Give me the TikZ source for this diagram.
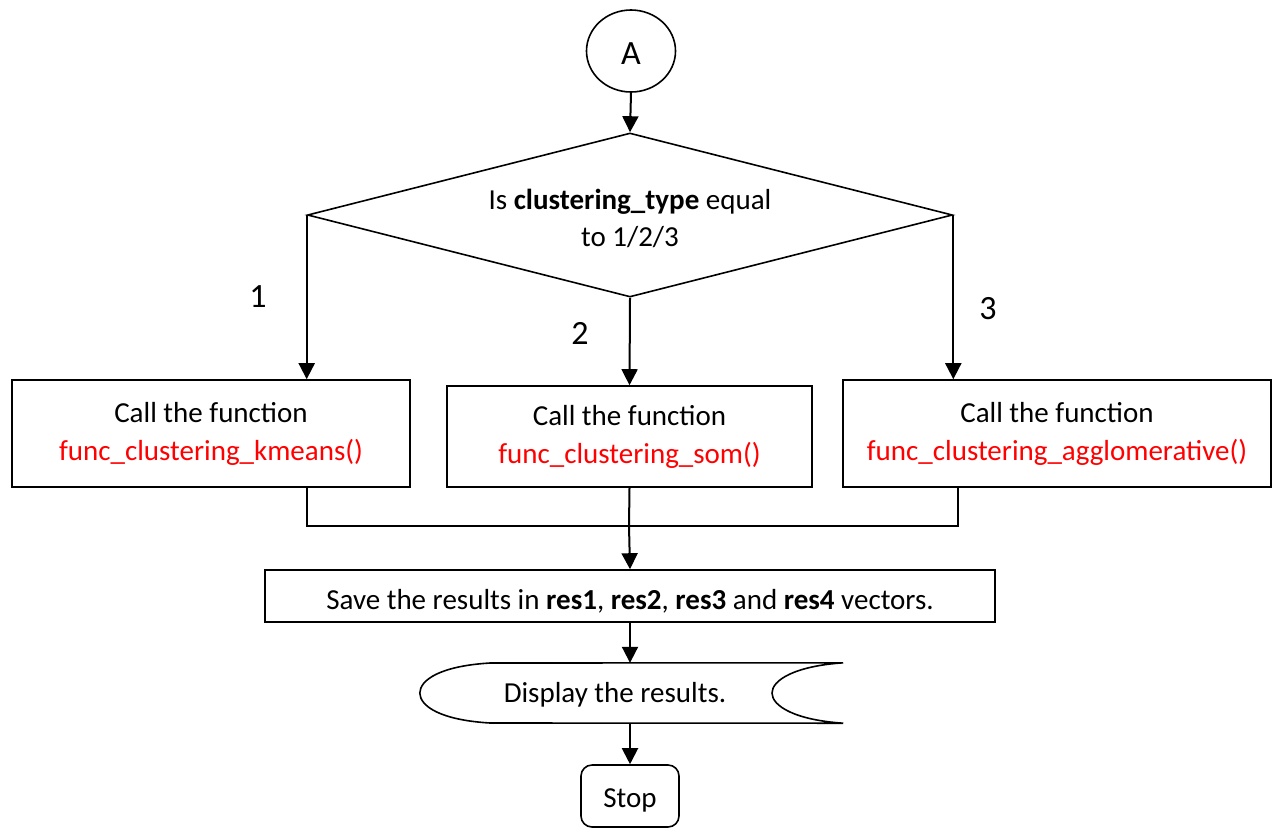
\documentclass[tikz,border=0pt]{standalone}
\usepackage{fontspec}
\setmainfont{Carlito}
\usetikzlibrary{arrows.meta,shapes.geometric}
\begin{document}
\begin{tikzpicture}[x=1pt,y=-1pt,
  every node/.style={font=\fontsize{29}{36}\selectfont},
  big/.style={font=\fontsize{34}{40}\selectfont},
  box/.style={draw,line width=1.6pt,inner sep=0pt,align=center},
  link/.style={line width=2pt},
  flow/.style={line width=2pt,-{Triangle[width=16pt,length=16pt]}}]
\useasboundingbox (0,0) rectangle (1281,828);

% connector circle
\node[ellipse,draw,big,line width=1.6pt,minimum width=89pt,minimum height=82pt,inner sep=0pt] (A) at (631,51) {\raisebox{-13pt}[0pt][0pt]{A}};

% decision
\node[diamond,draw,line width=1.6pt,minimum width=645pt,minimum height=164pt,inner sep=0pt] (d) at (630,215) {};
\node[align=center] (dtxt) at (630,218) {Is \textbf{clustering\_type} equal\\[1pt]to 1/2/3};

% process boxes
\node[box,minimum width=398pt,minimum height=107pt] (b1) at (211,433.5)
  {Call the function\\[2pt]\textcolor{red}{func\_clustering\_kmeans()}};
\node[box,minimum width=365pt,minimum height=101pt] (b2) at (629.5,436.5)
  {Call the function\\[2pt]\textcolor{red}{func\_clustering\_som()}};
\node[box,minimum width=428pt,minimum height=107pt] (b3) at (1057,433.5)
  {Call the function\\[2pt]\textcolor{red}{func\_clustering\_agglomerative()}};

\node[box,minimum width=730pt,minimum height=52pt] (s) at (630,596)
  {\raisebox{-13pt}[0pt][0pt]{Save the results in \textbf{res1}, \textbf{res2}, \textbf{res3} and \textbf{res4} vectors.}};

% display
\node[minimum width=423pt,minimum height=60pt,inner sep=0pt] (disp) at (631.5,693) {};
\node (dtext) at (615,695) {Display the results.};
\draw[line width=1.6pt]
  (disp.north east) -- (490,663) .. controls (440,666) and (420,680) .. (disp.west)
  .. controls (420,706) and (440,720) .. (490,723) -- (disp.south east)
  .. controls (795,720) and (772,706) .. (772,693)
  .. controls (772,680) and (795,666) .. (disp.north east);

% terminal
\node[box,rounded corners=11pt,minimum width=98pt,minimum height=62pt] (stop) at (630,796) {\raisebox{-11pt}[0pt][0pt]{Stop}};

% branch labels
\node[big] (l1) at (258,297) {1};
\node[big] (l2) at (580,333) {2};
\node[big] (l3) at (988,309) {3};

% flow
\draw[flow] (A.south) -- (d.north);
\draw[flow] (d.west) -- (d.west |- b1.north);
\draw[flow] (d.south) -- (b2.north);
\draw[flow] (d.east) -- (d.east |- b3.north);

\coordinate (j) at (629,526);
\coordinate (jr) at (958,526);
\draw[link] (b1.south -| d.west) -- (d.west |- j) -- (jr) -- (jr |- b3.south);
\draw[link] (b2.south) -- (j);
\draw[flow] (j) -- (s.north);
\draw[flow] (s.south) -- (disp.north -| s.south);
\draw[flow] (disp.south -| s.south) -- (stop.north);
\end{tikzpicture}
\end{document}
